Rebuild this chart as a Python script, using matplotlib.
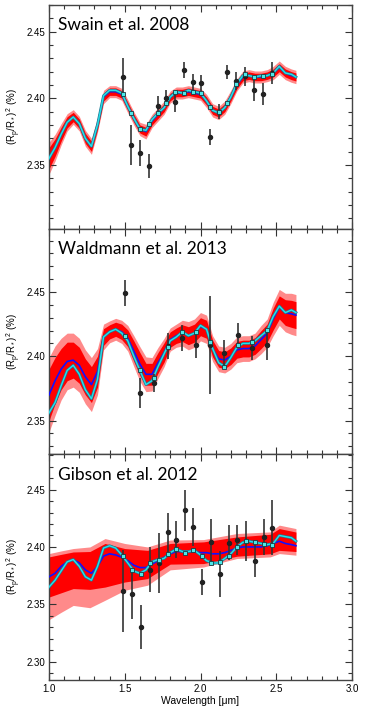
"""Three-panel transmission spectrum comparison (Swain / Waldmann / Gibson)."""

import matplotlib
matplotlib.use("Agg")
import matplotlib.pyplot as plt
import matplotlib.patheffects as pe
from matplotlib.ticker import MultipleLocator
import numpy as np

plt.rcParams["font.family"] = ["Liberation Sans", "DejaVu Sans"]
plt.rcParams["mathtext.default"] = "regular"

# common model wavelength grid (micron)
MODEL_WL = [1.00, 1.04, 1.08, 1.12, 1.16, 1.20, 1.24, 1.28, 1.32, 1.36, 1.40, 1.44, 1.48, 1.52,
            1.56, 1.60, 1.64, 1.68, 1.72, 1.76, 1.80, 1.84, 1.88, 1.92, 1.96, 2.00, 2.04, 2.08,
            2.12, 2.16, 2.20, 2.24, 2.28, 2.32, 2.36, 2.40, 2.44, 2.48, 2.52, 2.56, 2.60, 2.63]

# --- Swain et al. 2008 ---
p1_best = [2.355, 2.363, 2.373, 2.382, 2.386, 2.381, 2.370, 2.364, 2.380, 2.402, 2.406, 2.406, 2.404, 2.394,
           2.385, 2.377, 2.376, 2.384, 2.389, 2.393, 2.401, 2.405, 2.404, 2.406, 2.405, 2.404, 2.398, 2.391,
           2.389, 2.393, 2.401, 2.411, 2.417, 2.417, 2.416, 2.417, 2.417, 2.419, 2.424, 2.419, 2.418, 2.416]
p1_median = [2.355, 2.363, 2.373, 2.382, 2.386, 2.381, 2.370, 2.364, 2.380, 2.401, 2.405, 2.405, 2.403, 2.394,
             2.385, 2.377, 2.375, 2.383, 2.388, 2.393, 2.401, 2.404, 2.404, 2.405, 2.404, 2.403, 2.398, 2.391,
             2.389, 2.393, 2.401, 2.410, 2.416, 2.417, 2.416, 2.416, 2.417, 2.419, 2.423, 2.419, 2.417, 2.416]
p1_hw_outer = [0.012, 0.010, 0.008, 0.0065, 0.0055, 0.0055, 0.006, 0.006, 0.0055, 0.005, 0.0045, 0.0045, 0.0045, 0.005,
               0.005, 0.005, 0.0055, 0.005, 0.005, 0.005, 0.0045, 0.0045, 0.0045, 0.0045, 0.0045, 0.0045, 0.005, 0.005,
               0.005, 0.005, 0.005, 0.0045, 0.0045, 0.0045, 0.0045, 0.0045, 0.0045, 0.005, 0.005, 0.005, 0.005, 0.005]
p1_hw_inner = [0.008, 0.0065, 0.0052, 0.0042, 0.0035, 0.0035, 0.0038, 0.0038, 0.0035, 0.003, 0.0028, 0.0028, 0.0028, 0.003,
               0.003, 0.003, 0.0033, 0.003, 0.003, 0.003, 0.0028, 0.0028, 0.0028, 0.0028, 0.0028, 0.0028, 0.003, 0.003,
               0.003, 0.003, 0.003, 0.0028, 0.0028, 0.0028, 0.0028, 0.0028, 0.0028, 0.003, 0.003, 0.003, 0.003, 0.003]
p1_obs_wl = [1.486, 1.543, 1.600, 1.659, 1.719, 1.772, 1.831, 1.888, 1.948, 2.005, 2.063, 2.120,
             2.178, 2.237, 2.294, 2.352, 2.411, 2.470]
p1_obs = [2.4161, 2.3652, 2.3590, 2.3490, 2.3943, 2.4000, 2.3975, 2.4211, 2.4119, 2.4112, 2.3708, 2.3900,
          2.4198, 2.4131, 2.4166, 2.4062, 2.4032, 2.4191]
p1_err = [0.014, 0.015, 0.010, 0.009, 0.0078, 0.006, 0.008, 0.006, 0.006, 0.006, 0.006, 0.0055,
          0.0055, 0.007, 0.007, 0.008, 0.008, 0.008]
p1_binned = [2.4032, 2.3893, 2.3769, 2.3810, 2.3889, 2.3963, 2.4049, 2.4037, 2.4049, 2.4037, 2.3933, 2.3901,
             2.3967, 2.4104, 2.4186, 2.4161, 2.4168, 2.4186]

# --- Waldmann et al. 2013 ---
p2_best = [2.356, 2.364, 2.377, 2.389, 2.393, 2.386, 2.374, 2.367, 2.382, 2.415, 2.419, 2.421, 2.418, 2.412,
           2.400, 2.389, 2.378, 2.381, 2.392, 2.402, 2.412, 2.415, 2.419, 2.416, 2.418, 2.424, 2.421, 2.406,
           2.395, 2.392, 2.399, 2.407, 2.410, 2.410, 2.412, 2.416, 2.420, 2.431, 2.439, 2.434, 2.436, 2.434]
p2_median = [2.370, 2.381, 2.390, 2.396, 2.397, 2.393, 2.384, 2.378, 2.388, 2.415, 2.419, 2.421, 2.419, 2.414,
             2.404, 2.394, 2.386, 2.386, 2.395, 2.403, 2.413, 2.416, 2.418, 2.416, 2.418, 2.423, 2.421, 2.406,
             2.398, 2.397, 2.400, 2.405, 2.406, 2.406, 2.408, 2.413, 2.418, 2.429, 2.438, 2.434, 2.433, 2.432]
p2_hw_outer = [0.029, 0.027, 0.024, 0.022, 0.021, 0.021, 0.021, 0.021, 0.018, 0.010, 0.0085, 0.0085, 0.009, 0.010,
               0.012, 0.0135, 0.0135, 0.013, 0.012, 0.011, 0.009, 0.009, 0.010, 0.011, 0.011, 0.011, 0.011, 0.010,
               0.010, 0.010, 0.010, 0.010, 0.010, 0.010, 0.010, 0.011, 0.011, 0.013, 0.014, 0.015, 0.016, 0.016]
p2_hw_inner = [0.020, 0.018, 0.016, 0.015, 0.014, 0.014, 0.014, 0.014, 0.012, 0.0065, 0.0055, 0.0055, 0.006, 0.0065,
               0.008, 0.009, 0.0085, 0.0085, 0.008, 0.0075, 0.006, 0.006, 0.0065, 0.007, 0.007, 0.007, 0.007, 0.0065,
               0.0065, 0.0065, 0.0065, 0.0065, 0.0065, 0.0065, 0.0065, 0.007, 0.007, 0.0085, 0.009, 0.010, 0.0105, 0.0105]
p2_obs_wl = [1.500, 1.601, 1.693, 1.783, 1.876, 1.969, 2.063, 2.155, 2.250, 2.343, 2.437]
p2_obs = [2.4495, 2.3716, 2.3794, 2.4078, 2.4142, 2.4085, 2.4090, 2.4026, 2.4163, 2.4065, 2.4085]
p2_err = [0.010, 0.0116, 0.007, 0.010, 0.010, 0.010, 0.038, 0.010, 0.0095, 0.0095, 0.0116]
p2_binned = [2.4155, 2.3890, 2.3835, 2.4071, 2.4186, 2.4186, 2.4114, 2.3918, 2.4085, 2.4114, 2.4201]

# --- Gibson et al. 2012 ---
p3_best = [2.365, 2.371, 2.379, 2.387, 2.389, 2.383, 2.374, 2.371, 2.383, 2.399, 2.401, 2.399, 2.393, 2.386,
           2.379, 2.377, 2.380, 2.387, 2.389, 2.390, 2.395, 2.398, 2.396, 2.396, 2.397, 2.393, 2.388, 2.386,
           2.386, 2.390, 2.394, 2.400, 2.404, 2.405, 2.404, 2.403, 2.402, 2.403, 2.410, 2.409, 2.408, 2.405]
p3_median = [2.374, 2.377, 2.383, 2.387, 2.389, 2.386, 2.380, 2.377, 2.383, 2.392, 2.394, 2.393, 2.391, 2.388,
             2.384, 2.382, 2.382, 2.385, 2.388, 2.391, 2.394, 2.396, 2.396, 2.396, 2.396, 2.395, 2.395, 2.394,
             2.394, 2.395, 2.397, 2.399, 2.400, 2.400, 2.400, 2.400, 2.401, 2.403, 2.405, 2.403, 2.402, 2.401]
p3_band_wl = [1.00, 1.08, 1.16, 1.27, 1.37, 1.50, 1.65, 1.80, 2.02, 2.24, 2.46, 2.52, 2.63]
p3_outer_hi = [2.3942, 2.3965, 2.3986, 2.4000, 2.4073, 2.4030, 2.4000, 2.4060, 2.4064, 2.4117, 2.4131, 2.4190, 2.4160]
p3_outer_lo = [2.3366, 2.3430, 2.3490, 2.3470, 2.3535, 2.3622, 2.3666, 2.3800, 2.3825, 2.3899, 2.3913, 2.3942, 2.3928]
p3_inner_hi = [2.3913, 2.3935, 2.3956, 2.3960, 2.4030, 2.3986, 2.3970, 2.4030, 2.4044, 2.4087, 2.4110, 2.4160, 2.4130]
p3_inner_lo = [2.3563, 2.3600, 2.3637, 2.3630, 2.3650, 2.3694, 2.3724, 2.3850, 2.3855, 2.3919, 2.3940, 2.3970, 2.3960]
p3_obs_wl = [1.491, 1.550, 1.607, 1.667, 1.726, 1.783, 1.838, 1.898, 1.953, 2.012, 2.069, 2.127,
             2.186, 2.243, 2.300, 2.360, 2.419, 2.474]
p3_obs = [2.3616, 2.3587, 2.3302, 2.3802, 2.3861, 2.4126, 2.4064, 2.4320, 2.4175, 2.3694, 2.4044, 2.3767,
          2.4035, 2.4058, 2.4052, 2.3880, 2.4087, 2.4169]
p3_err = [0.036, 0.0215, 0.019, 0.0196, 0.026, 0.017, 0.016, 0.018, 0.0165, 0.011, 0.0196, 0.020,
          0.0153, 0.013, 0.0178, 0.0138, 0.016, 0.024]
p3_binned = [2.3922, 2.3803, 2.3767, 2.3861, 2.3890, 2.3936, 2.3986, 2.3951, 2.3977, 2.3919, 2.3861, 2.3869,
             2.3919, 2.4000, 2.4052, 2.4041, 2.4023, 2.4020]

TITLES = ["Swain et al. 2008", "Waldmann et al. 2013", "Gibson et al. 2012"]
YLIMS = [(2.302, 2.470), (2.324, 2.499), (2.284, 2.481)]

C_OUTER, C_INNER = "#ff8a8a", "#ff0000"
C_BLUE, C_CYAN = "#1010ff", "#2adfe8"


def draw_panel(ax, wl, band, median, best, obs_wl, obs, err, binned, title, ylim):
    bwl, olo, ohi, ilo, ihi = band
    ax.fill_between(bwl, olo, ohi, color=C_OUTER, lw=0, zorder=1)
    ax.fill_between(bwl, ilo, ihi, color=C_INNER, lw=0, zorder=2)
    ax.plot(wl, median, color=C_BLUE, lw=1.2, zorder=3)
    ax.plot(wl, best, color=C_CYAN, lw=1.0, zorder=4,
            path_effects=[pe.Stroke(linewidth=2.0, foreground="#1b7a95"), pe.Normal()])
    ax.errorbar(obs_wl, obs, yerr=err, fmt="o", ms=2.9, color="#222222", ecolor="#333333",
                elinewidth=1.2, capsize=0, zorder=5)
    ax.plot(obs_wl, binned, "s", ms=3.4, mfc="#4de8e8", mec="#1a3a40", mew=0.6, zorder=6)

    ax.set_xlim(1.0, 3.0)
    ax.set_ylim(*ylim)
    ax.xaxis.set_major_locator(MultipleLocator(0.5))
    ax.xaxis.set_minor_locator(MultipleLocator(0.1))
    ax.yaxis.set_major_locator(MultipleLocator(0.05))
    ax.yaxis.set_minor_locator(MultipleLocator(0.01))
    ax.yaxis.set_major_formatter(plt.FormatStrFormatter("%.2f"))
    ax.xaxis.set_major_formatter(plt.FormatStrFormatter("%.1f"))
    ax.tick_params(which="both", direction="in", top=True, right=True, colors="#333333",
                   labelcolor="black", labelsize=7, width=0.8, pad=3)
    ax.tick_params(which="major", length=5)
    ax.tick_params(which="minor", length=3)
    for s in ax.spines.values():
        s.set_color("#444444")
        s.set_linewidth(1.0)
    ax.set_ylabel(r"(R$_p$/R$_*$)$^2$ (%)", fontsize=7, labelpad=2)
    ax.text(0.03, 0.887, title, transform=ax.transAxes, fontsize=12.5, family=["Lato", "DejaVu Sans"],
            ha="left", va="baseline", zorder=7)


def main():
    fig = plt.figure(figsize=(3.74, 7.09), dpi=100)
    left, width = 49 / 374, 303 / 374
    boxes = [(480 / 709, 224 / 709), (255 / 709, 225 / 709), (29 / 709, 226 / 709)]
    axes = [fig.add_axes([left, b, width, h]) for b, h in boxes]

    p1_med = np.array(p1_median)
    p2_med = np.array(p2_median)
    bands = [
        (MODEL_WL, p1_med - p1_hw_outer, p1_med + p1_hw_outer, p1_med - p1_hw_inner, p1_med + p1_hw_inner),
        (MODEL_WL, p2_med - p2_hw_outer, p2_med + p2_hw_outer, p2_med - p2_hw_inner, p2_med + p2_hw_inner),
        (p3_band_wl, p3_outer_lo, p3_outer_hi, p3_inner_lo, p3_inner_hi),
    ]
    medians = [p1_median, p2_median, p3_median]
    bests = [p1_best, p2_best, p3_best]
    obs = [(p1_obs_wl, p1_obs, p1_err, p1_binned),
           (p2_obs_wl, p2_obs, p2_err, p2_binned),
           (p3_obs_wl, p3_obs, p3_err, p3_binned)]

    for i, ax in enumerate(axes):
        ow, ov, oe, ob = obs[i]
        draw_panel(ax, MODEL_WL, bands[i], medians[i], bests[i], ow, ov, oe, ob, TITLES[i], YLIMS[i])
        if i < 2:
            ax.tick_params(labelbottom=False)

    axes[2].set_xlabel("Wavelength [\u03bcm]", fontsize=7.5, labelpad=1)
    fig.savefig("out.png", dpi=100)


if __name__ == "__main__":
    main()
